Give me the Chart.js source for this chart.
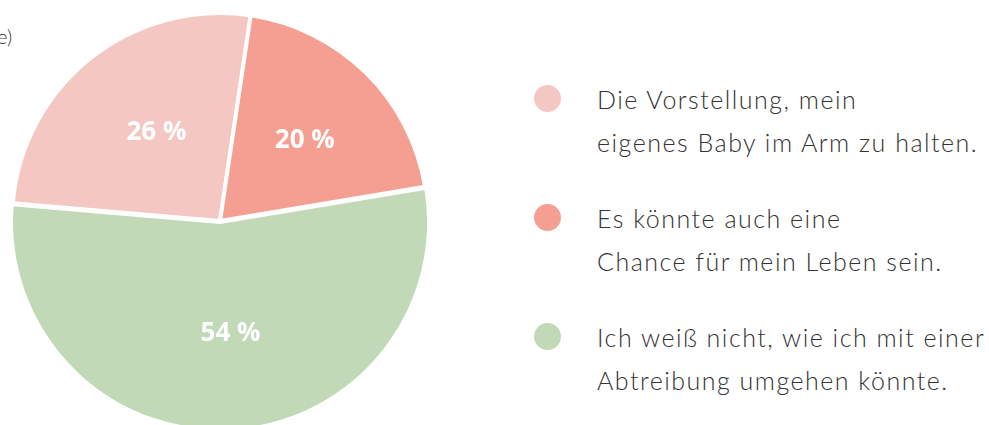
<!DOCTYPE html>
<html>
<head>
<meta charset="utf-8">
<script src="https://cdn.jsdelivr.net/npm/chart.js@4"></script>
<style>
  html, body { margin: 0; padding: 0; background: #fff; overflow: hidden; }
  body { width: 989px; height: 425px; position: relative; font-family: "Lato", sans-serif; }
  #wrap { position: absolute; left: 8px; top: 9px; width: 424px; height: 424px; }
  #cut { position: absolute; left: -3px; top: 24px; font-size: 20px; color: #333; font-weight: 300; }
  #legend { position: absolute; left: 534px; top: 78px; }
  .item { position: relative; padding-left: 63px; margin-bottom: 33px; }
  .dot { position: absolute; left: 0; top: 7px; width: 27px; height: 27px; border-radius: 50%; }
  .txt { font-size: 25px; line-height: 43px; letter-spacing: 1.5px; color: #333; font-weight: 300; white-space: nowrap; }
</style>
</head>
<body>
<div id="cut">e)</div>
<div id="wrap"><canvas id="c"></canvas></div>
<div id="legend"></div>
<script>
// values
var categories = [
  ["Die Vorstellung, mein", "eigenes Baby im Arm zu halten."],
  ["Es könnte auch eine", "Chance für mein Leben sein."],
  ["Ich weiß nicht, wie ich mit einer", "Abtreibung umgehen könnte."]
];
var shares = [26, 20, 54];
var colors = ["#f4c7c3", "#f49f92", "#c1d9b7"];

// html legend, one row per category
var legend = document.getElementById("legend");
categories.forEach(function (lines, i) {
  var item = document.createElement("div");
  item.className = "item";
  item.innerHTML = '<span class="dot" style="background:' + colors[i] + '"></span>' +
    '<div class="txt">' + lines.join("<br>") + '</div>';
  legend.appendChild(item);
});

// white percent labels inside the slices
var sliceLabels = {
  id: "sliceLabels",
  afterDatasetsDraw: function (chart) {
    var ctx = chart.ctx;
    var meta = chart.getDatasetMeta(0);
    ctx.save();
    ctx.fillStyle = "#fff";
    ctx.font = "bold 26px 'Open Sans', sans-serif";
    ctx.textAlign = "center";
    ctx.textBaseline = "middle";
    meta.data.forEach(function (arc, i) {
      var p = arc.getProps(["x", "y", "startAngle", "endAngle", "outerRadius"], true);
      var mid = (p.startAngle + p.endAngle) / 2;
      var r = p.outerRadius * 0.54;
      ctx.fillText(shares[i] + " %", p.x + Math.cos(mid) * r + 6, p.y + Math.sin(mid) * r);
    });
    ctx.restore();
  }
};

new Chart(document.getElementById("c"), {
  type: "pie",
  data: {
    labels: categories.map(function (l) { return l.join(" "); }),
    datasets: [{
      data: shares,
      backgroundColor: colors,
      borderColor: "#fff",
      borderWidth: 4,
      offset: [0, 0, 4]
    }]
  },
  options: {
    responsive: true,
    maintainAspectRatio: false,
    animation: false,
    rotation: -85.1,
    layout: { padding: 0 },
    plugins: {
      legend: { display: false },
      tooltip: { enabled: false }
    },
    events: []
  },
  plugins: [sliceLabels]
});
</script>
</body>
</html>
